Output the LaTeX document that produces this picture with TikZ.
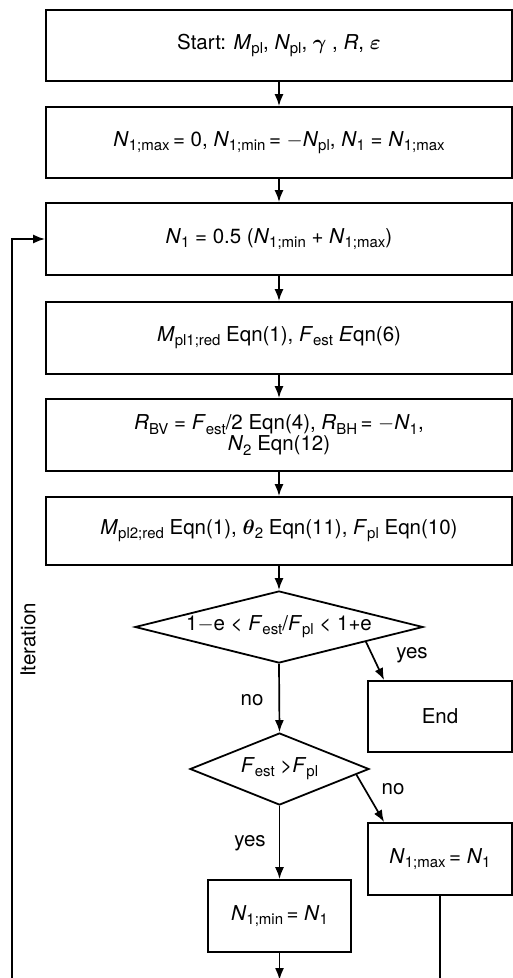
\documentclass[tikz,border=0pt]{standalone}
\usepackage{amsmath}
\usepackage{fontspec}
\setmainfont{TeX Gyre Heros}
\usetikzlibrary{arrows.meta,shapes.geometric,calc}
% italic variable and lowered subscript
\newcommand{\vr}[1]{\textit{#1}}
\newcommand{\sbt}[1]{\raisebox{-0.4ex}{\fontsize{15}{15}\selectfont #1}}
\begin{document}
\begin{tikzpicture}[x=1pt,y=-1pt,
  every node/.style={font=\fontsize{20.5}{24}\selectfont},
  stepbox/.style={draw,line width=1.8pt,rectangle,inner sep=0pt,align=center},
  decision/.style={draw,line width=1.8pt,diamond,inner sep=0pt},
  flow/.style={line width=1.7pt,-{Latex[length=12pt,width=9pt]}},
  plain/.style={line width=1.7pt},
  lbl/.style={inner sep=0pt}]
\useasboundingbox (0,0) rectangle (513,978);

% main column of process boxes
\node[stepbox,minimum width=466pt,minimum height=71pt] (start) at (279,45.5)
  {Start: \vr{M}\sbt{pl}, \vr{N}\sbt{pl}, $\boldsymbol{\gamma}$ , \vr{R}, $\boldsymbol{\varepsilon}$};
\node[stepbox,minimum width=466pt,minimum height=71pt] (init) at (279,142.5)
  {\vr{N}\sbt{1;max}\,= 0, \vr{N}\sbt{1;min}\,= $-$\vr{N}\sbt{pl}, \vr{N}\sbt{1} = \vr{N}\sbt{1;max}};
\node[stepbox,minimum width=466pt,minimum height=72pt] (mid) at (279,239)
  {\vr{N}\sbt{1} = 0.5 (\vr{N}\sbt{1;min} + \vr{N}\sbt{1;max})};
\node[stepbox,minimum width=466pt,minimum height=72pt] (mred) at (279,338)
  {\vr{M}\sbt{pl1;red} Eqn(1), \vr{F}\sbt{est} \vr{E}qn(6)};
\node[stepbox,minimum width=466pt,minimum height=72pt] (react) at (279,435)
  {\vr{R}\sbt{BV} = \vr{F}\sbt{est}/2 Eqn(4), \vr{R}\sbt{BH}\,= $-$\vr{N}\sbt{1},\\[-3pt]
   \vr{N}\sbt{2} Eqn(12)};
\node[stepbox,minimum width=466pt,minimum height=68pt] (fpl) at (279,531)
  {\vr{M}\sbt{pl2;red} Eqn(1), $\boldsymbol{\theta}$\sbt{2} Eqn(11), \vr{F}\sbt{pl} Eqn(10)};

% decisions
\node[decision,minimum width=288pt,minimum height=72pt] (conv) at (279,627) {};
\node[lbl] at (conv) {1$-$e < \vr{F}\sbt{est}/\vr{F}\sbt{pl} < 1+e};
\node[stepbox,minimum width=144pt,minimum height=71pt] (end) at (440,716.5) {End};

\node[decision,minimum width=179pt,minimum height=72pt] (cmp) at (279.5,769) {};
\node[lbl] at (cmp) {\vr{F}\sbt{est} >\vr{F}\sbt{pl}};

\node[stepbox,minimum width=144pt,minimum height=72pt] (setmax) at (440,859)
  {\vr{N}\sbt{1;max}\,= \vr{N}\sbt{1}};
\node[stepbox,minimum width=143pt,minimum height=72pt] (setmin) at (279.5,916)
  {\vr{N}\sbt{1;min}\,= \vr{N}\sbt{1}};

% free ends below the drawing
\coordinate (minout) at (279.5,980);
\coordinate (maxout) at (440,980);
\coordinate (loopbot) at (12,980);
\coordinate (looptop) at (12,239);

% connectors
\draw[flow] (start) -- (init);
\draw[flow] (init) -- (mid);
\draw[flow] (mid) -- (mred);
\draw[flow] (mred) -- (react);
\draw[flow] (react) -- (fpl);
\draw[flow] (fpl) -- (conv);
\draw[flow] (conv.south) -- (cmp.north);
\draw[flow] ($(conv.east)!0.4!(conv.south)$) -- ($(end.north west)+(17,0)$);
\draw[flow] ($(cmp.east)!0.15!(cmp.south)$) -- ($(setmax.north west)+(17,0)$);
\draw[flow] (cmp.south) -- (setmin.north);
\draw[flow] (setmin.south) -- (minout);
\draw[plain] (setmax.south) -- (maxout);
\draw[flow] (loopbot) -- (looptop) -- (mid.west);

% branch labels
\node[lbl] at (412,655) {yes};
\node[lbl] at (252,700) {no};
\node[lbl] at (393,789) {no};
\node[lbl] at (250,843) {yes};
\node[lbl,rotate=90] at (28,640) {Iteration};
\end{tikzpicture}
\end{document}
